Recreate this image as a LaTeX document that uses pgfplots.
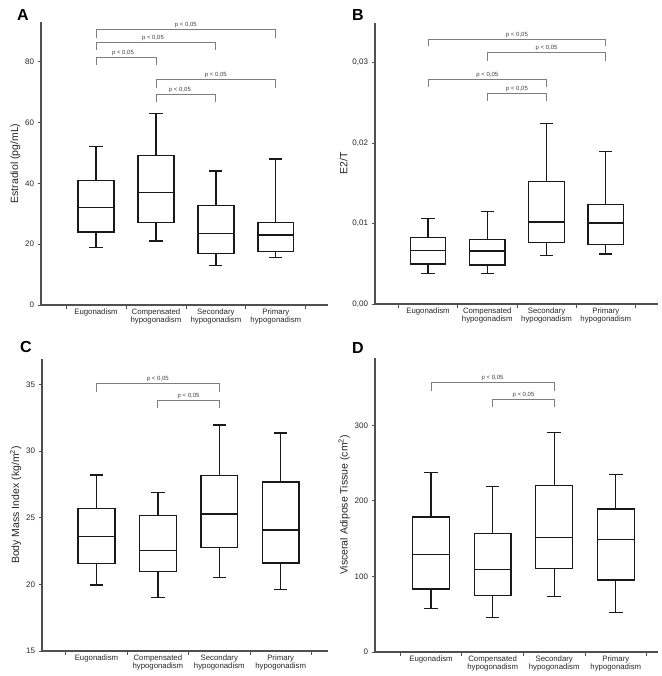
\documentclass[border=0pt]{standalone}
\usepackage{fontspec}
\setmainfont{Liberation Sans}
\usepackage{pgfplots}
\pgfplotsset{compat=1.18}
\usepgfplotslibrary{statistics}

\definecolor{axisgray}{HTML}{505050}
\definecolor{brgray}{HTML}{7E7E7E}

\pgfplotsset{
  panel/.style={
    scale only axis,
    anchor=south west,
    axis x line*=bottom, axis y line*=left,
    axis line style={axisgray, line width=1.3pt, -},
    xtick={0.5,1.5,2.5,3.5,4.5}, xticklabels={},
    extra x ticks={1,2,3,4},
    extra x tick labels={Eugonadism,{Compensated\\hypogonadism},{Secondary\\hypogonadism},{Primary\\hypogonadism}},
    extra x tick style={major tick length=0pt},
    tick align=outside, major tick length=3.5pt,
    tick style={axisgray, line width=0.8pt},
    x tick label style={font=\fontsize{7.8}{8.8}\selectfont, align=center, text=black!85},
    y tick label style={font=\fontsize{8}{9}\selectfont, text=black!85},
    ylabel style={font=\fontsize{10.5}{12}\selectfont, text=black!85, xshift=0pt, yshift=-2pt},
    /pgf/number format/assume math mode=true,
    boxplot/draw direction=y,
    clip=false,
  },
  bx/.style={black!90, line width=1.3pt, solid},
}

% bracket: x1, x2, y of bar, y of leg ends, x of text
\newcommand{\br}[5]{%
  \draw[brgray, line width=0.8pt] (axis cs:#1,#4) -- (axis cs:#1,#3) -- (axis cs:#2,#3) -- (axis cs:#2,#4);
  \node[font=\fontsize{6}{7}\selectfont, text=black!75, anchor=south, inner sep=1.2pt] at (axis cs:#5,#3) {p < 0,05};
}

\begin{document}
\begin{tikzpicture}
\path[use as bounding box] (0,0) rectangle (661pt,-676pt);

% ---- A: estradiol
\begin{axis}[panel, at={(41pt,-305pt)}, width=287pt, height=283pt,
  xmin=0.083, xmax=4.87, ymin=0, ymax=93, ytick={0,20,40,60,80},
  ylabel={Estradiol (pg/mL)}]
\addplot[bx, boxplot prepared={draw position=1, lower whisker=19, lower quartile=24, median=32, upper quartile=41, upper whisker=52, box extend=0.6, whisker extend=0.22}] coordinates {};
\addplot[bx, boxplot prepared={draw position=2, lower whisker=21, lower quartile=27, median=37, upper quartile=49.2, upper whisker=63, box extend=0.6, whisker extend=0.22}] coordinates {};
\addplot[bx, boxplot prepared={draw position=3, lower whisker=13, lower quartile=17, median=23.5, upper quartile=32.8, upper whisker=44, box extend=0.6, whisker extend=0.22}] coordinates {};
\addplot[bx, boxplot prepared={draw position=4, lower whisker=15.7, lower quartile=17.5, median=23, upper quartile=27, upper whisker=48, box extend=0.6, whisker extend=0.22}] coordinates {};
\br{1}{4}{90.7}{87.9}{2.5}
\br{1}{3}{86.4}{83.7}{1.95}
\br{1}{2}{81.3}{78.8}{1.45}
\br{2}{4}{74.1}{71.2}{3}
\br{2}{3}{69.3}{66.6}{2.4}
\end{axis}

% ---- B: E2/T
\begin{axis}[panel, at={(375pt,-304pt)}, width=283pt, height=281pt,
  xmin=0.106, xmax=4.88, ymin=0, ymax=0.0349, ytick={0,0.01,0.02,0.03},
  yticklabel style={/pgf/number format/.cd, fixed, fixed zerofill, precision=2, use comma},
  scaled y ticks=false,
  ylabel={E2/T}]
\addplot[bx, boxplot prepared={draw position=1, lower whisker=0.0038, lower quartile=0.00496, median=0.00662, upper quartile=0.00827, upper whisker=0.01058, box extend=0.6, whisker extend=0.22}] coordinates {};
\addplot[bx, boxplot prepared={draw position=2, lower whisker=0.0038, lower quartile=0.00484, median=0.0066, upper quartile=0.00802, upper whisker=0.0115, box extend=0.6, whisker extend=0.22}] coordinates {};
\addplot[bx, boxplot prepared={draw position=3, lower whisker=0.0060, lower quartile=0.00765, median=0.01017, upper quartile=0.01522, upper whisker=0.02242, box extend=0.6, whisker extend=0.22}] coordinates {};
\addplot[bx, boxplot prepared={draw position=4, lower whisker=0.0062, lower quartile=0.00736, median=0.01005, upper quartile=0.01232, upper whisker=0.0189, box extend=0.6, whisker extend=0.22}] coordinates {};
\br{1}{4}{0.03288}{0.0320}{2.5}
\br{2}{4}{0.03122}{0.0302}{3}
\br{1}{3}{0.02787}{0.0270}{2}
\br{2}{3}{0.02614}{0.0252}{2.5}
\end{axis}

% ---- C: BMI
\begin{axis}[panel, at={(42pt,-651pt)}, width=286pt, height=292pt,
  xmin=0.113, xmax=4.77, ymin=15, ymax=36.9, ytick={15,20,25,30,35},
  ylabel={Body Mass Index (kg/m\textsuperscript{2})}]
\addplot[bx, boxplot prepared={draw position=1, lower whisker=19.96, lower quartile=21.57, median=23.57, upper quartile=25.7, upper whisker=28.2, box extend=0.6, whisker extend=0.22}] coordinates {};
\addplot[bx, boxplot prepared={draw position=2, lower whisker=19.0, lower quartile=20.96, median=22.54, upper quartile=25.15, upper whisker=26.9, box extend=0.6, whisker extend=0.22}] coordinates {};
\addplot[bx, boxplot prepared={draw position=3, lower whisker=20.49, lower quartile=22.74, median=25.28, upper quartile=28.16, upper whisker=31.94, box extend=0.6, whisker extend=0.22}] coordinates {};
\addplot[bx, boxplot prepared={draw position=4, lower whisker=19.59, lower quartile=21.59, median=24.07, upper quartile=27.68, upper whisker=31.34, box extend=0.6, whisker extend=0.22}] coordinates {};
\br{1}{3}{35.08}{34.45}{2}
\br{2}{3}{33.8}{33.2}{2.5}
\end{axis}

% ---- D: VAT
\begin{axis}[panel, at={(375pt,-652pt)}, width=283pt, height=294pt,
  xmin=0.09, xmax=4.685, ymin=0, ymax=389, ytick={0,100,200,300},
  ylabel={Visceral Adipose Tissue (cm\textsuperscript{2})}]
\addplot[bx, boxplot prepared={draw position=1, lower whisker=57.3, lower quartile=83.4, median=128.8, upper quartile=178.7, upper whisker=237.8, box extend=0.6, whisker extend=0.22}] coordinates {};
\addplot[bx, boxplot prepared={draw position=2, lower whisker=45.9, lower quartile=75, median=109, upper quartile=156.6, upper whisker=218.8, box extend=0.6, whisker extend=0.22}] coordinates {};
\addplot[bx, boxplot prepared={draw position=3, lower whisker=73.2, lower quartile=110.3, median=151.3, upper quartile=220.6, upper whisker=290.3, box extend=0.6, whisker extend=0.22}] coordinates {};
\addplot[bx, boxplot prepared={draw position=4, lower whisker=52, lower quartile=95.3, median=149.1, upper quartile=189.3, upper whisker=234.7, box extend=0.6, whisker extend=0.22}] coordinates {};
\br{1}{3}{356.4}{345.8}{2}
\br{2}{3}{334.4}{323.8}{2.5}
\end{axis}

\node[font=\bfseries\fontsize{16}{16}\selectfont, anchor=base west, inner sep=0pt] at (17pt,-21pt) {A};
\node[font=\bfseries\fontsize{16}{16}\selectfont, anchor=base west, inner sep=0pt] at (352pt,-21pt) {B};
\node[font=\bfseries\fontsize{16}{16}\selectfont, anchor=base west, inner sep=0pt] at (20pt,-352pt) {C};
\node[font=\bfseries\fontsize{16}{16}\selectfont, anchor=base west, inner sep=0pt] at (352pt,-353pt) {D};
\end{tikzpicture}
\end{document}
